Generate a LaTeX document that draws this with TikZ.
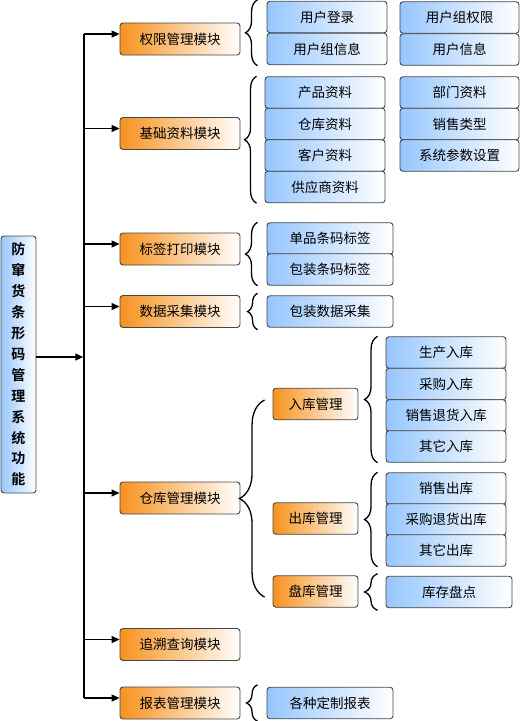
\documentclass[tikz,border=0pt]{standalone}
\usepackage{fontspec}
\setmainfont{Noto Sans CJK SC}
\newfontfamily\cjkbold{Noto Sans CJK SC Bold}
\usetikzlibrary{arrows.meta,decorations.pathreplacing,calc}
\definecolor{orng}{RGB}{247,146,30}
\definecolor{lblue}{RGB}{150,198,255}
\definecolor{edge}{RGB}{70,70,70}
\tikzset{
  box/.style={draw=edge,line width=0.9pt,rounded corners=3pt,inner sep=0pt,
    font=\fontsize{13.5pt}{16pt}\selectfont,text=black},
  modbox/.style={box,left color=orng,right color=white,minimum width=120pt,minimum height=32pt},
  subbox/.style={box,left color=orng,right color=white,minimum width=85pt,minimum height=31.5pt},
  leaf/.style={box,left color=lblue,right color=white,minimum height=31.5pt},
  arr/.style={line width=1.2pt,-{Triangle[length=8pt,width=7pt]}},
  trunkline/.style={line width=1.4pt},
  brc/.style={line width=1.3pt,decorate,decoration={brace,amplitude=#1,aspect=0.5}},
  brc/.default=12pt
}
\begin{document}
\begin{tikzpicture}[x=1pt,y=-1pt]
\useasboundingbox (0,0) rectangle (521,721);
% root
\node[box,left color=lblue,right color=white,minimum width=35pt,minimum height=257pt,
  align=center,font=\cjkbold\fontsize{14pt}{20.9pt}\selectfont] (root) at (18.5,364.5)
  {防\\窜\\货\\条\\形\\码\\管\\理\\系\\统\\功\\能};
% modules
\node[modbox] (m1) at (180,39) {权限管理模块};
\node[modbox] (m2) at (180,133.5) {基础资料模块};
\node[modbox] (m3) at (180,249) {标签打印模块};
\node[modbox] (m4) at (180,311.5) {数据采集模块};
\node[modbox] (m5) at (180,498) {仓库管理模块};
\node[modbox] (m6) at (180,644.5) {追溯查询模块};
\node[modbox] (m7) at (180,703) {报表管理模块};
% trunk
\coordinate (tk) at (84,0);
\foreach \m in {m1,m2,m3,m4,m5,m6,m7}{
  \coordinate (j\m) at ([yshift=5pt]\m.west -| tk);
  \draw[arr] (j\m) -- ([yshift=5pt]\m.west);
}
\draw[trunkline] (jm1) -- (jm7);
\draw[arr] ([yshift=7.5pt]root.east) -- ([yshift=7.5pt,xshift=-0.7pt]root.east -| tk);
% group 1
\node[leaf,minimum width=120pt] (a1) at (327,17) {用户登录};
\node[leaf,minimum width=120pt] (a2) at (327,49) {用户组信息};
\node[leaf,minimum width=119pt] (a3) at (459.5,17.5) {用户组权限};
\node[leaf,minimum width=119pt] (a4) at (459.5,49.5) {用户信息};
\draw[brc] ([xshift=-9pt,yshift=-0.5pt]a2.south west) -- ([xshift=-9pt,yshift=1pt]a1.north west);
% group 2
\node[leaf,minimum width=120pt] (b1) at (325,92.5) {产品资料};
\node[leaf,minimum width=120pt] (b2) at (325,124) {仓库资料};
\node[leaf,minimum width=120pt] (b3) at (325,155.5) {客户资料};
\node[leaf,minimum width=120pt] (b4) at (325,187) {供应商资料};
\node[leaf,minimum width=119pt] (b5) at (459.5,92.5) {部门资料};
\node[leaf,minimum width=119pt] (b6) at (459.5,124) {销售类型};
\node[leaf,minimum width=119pt] (b7) at (459.5,155.5) {系统参数设置};
\draw[brc] ([xshift=-8pt]b4.south west) -- ([xshift=-8pt]b1.north west);
% group 3
\node[leaf,minimum width=126pt] (c1) at (330,238.5) {单品条码标签};
\node[leaf,minimum width=126pt] (c2) at (330,269.5) {包装条码标签};
\draw[brc] ([xshift=-9pt]c2.south west) -- ([xshift=-9pt]c1.north west);
% group 4
\node[leaf,minimum width=126pt] (d1) at (330,311.5) {包装数据采集};
\draw[brc=10pt] ([xshift=-9pt,yshift=-2pt]d1.south west) -- ([xshift=-9pt,yshift=2pt]d1.north west);
% warehouse
\node[subbox] (w1) at (315.5,404) {入库管理};
\node[subbox] (w2) at (315.5,518.5) {出库管理};
\node[subbox] (w3) at (315.5,591.5) {盘库管理};
\draw[brc=25pt] ([xshift=-8pt,yshift=-5.5pt]w3.west) -- ([xshift=-8pt,yshift=4pt]w1.west);
\node[leaf,minimum width=120pt] (e1) at (446,352.5) {生产入库};
\node[leaf,minimum width=120pt] (e2) at (446,384) {采购入库};
\node[leaf,minimum width=120pt] (e3) at (446,415.5) {销售退货入库};
\node[leaf,minimum width=120pt] (e4) at (446,446.5) {其它入库};
\draw[brc=13pt] ([xshift=-8pt]e4.south west) -- ([xshift=-8pt]e1.north west);
\node[leaf,minimum width=120pt] (f1) at (446,488.5) {销售出库};
\node[leaf,minimum width=120pt] (f2) at (446,519.5) {采购退货出库};
\node[leaf,minimum width=120pt] (f3) at (446,550.5) {其它出库};
\draw[brc=13pt] ([xshift=-8pt]f3.south west) -- ([xshift=-8pt]f1.north west);
\node[leaf,minimum width=126pt] (g1) at (449,592) {库存盘点};
\draw[brc=13pt] ([xshift=-8pt,yshift=-2pt]g1.south west) -- ([xshift=-8pt,yshift=2pt]g1.north west);
% report
\node[leaf,minimum width=126pt] (h1) at (330,703) {各种定制报表};
\draw[brc=11pt] ([xshift=-9pt,yshift=-2pt]h1.south west) -- ([xshift=-9pt,yshift=2pt]h1.north west);
\end{tikzpicture}
\end{document}
